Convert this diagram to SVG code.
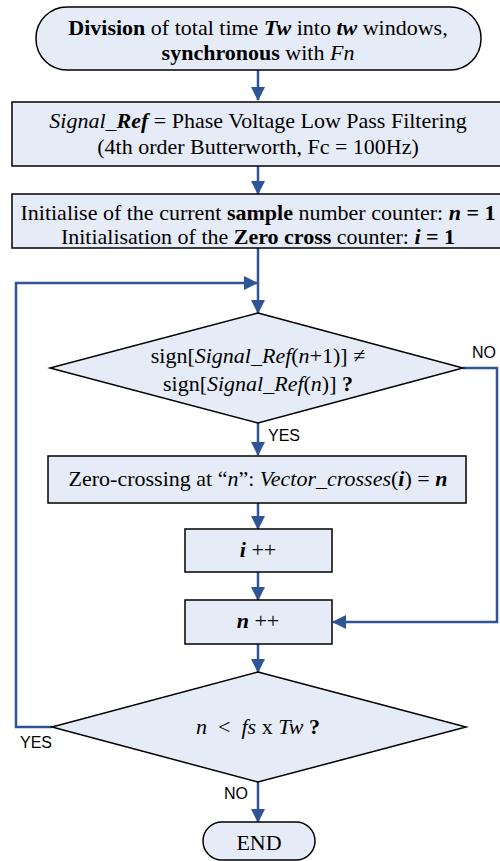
<svg xmlns="http://www.w3.org/2000/svg" width="500" height="861" viewBox="0 0 500 861">
<defs>
<marker id="ah" markerUnits="userSpaceOnUse" markerWidth="14" markerHeight="14" viewBox="0 0 14 14" refX="13" refY="7" orient="auto">
<path d="M0,0 L14,7 L0,14 Z" fill="#2F5597"/>
</marker>
<style>
.n{fill:#E6ECF7;stroke:#000;stroke-width:1.5}
.t{font-family:"Liberation Serif","Times New Roman",serif;font-size:22px;fill:#000;text-anchor:middle}
.l{font-family:"Liberation Sans",Arial,sans-serif;font-size:16px;fill:#000}
.c{fill:none;stroke:#2F5597;stroke-width:2.5}
.b{font-weight:bold}
.i{font-style:italic}
.bi{font-weight:bold;font-style:italic}
</style>
</defs>
<g id="connectors">
<path class="c" d="M258,70 V100" marker-end="url(#ah)"/>
<path class="c" d="M258,166 V194" marker-end="url(#ah)"/>
<path class="c" d="M258,248 V313" marker-end="url(#ah)"/>
<path class="c" d="M52,727 H16 V283 H257" marker-end="url(#ah)"/>
<path class="c" d="M258,423 V455" marker-end="url(#ah)"/>
<path class="c" d="M463,368 H497 V622 H333" marker-end="url(#ah)"/>
<path class="c" d="M258,503 V529" marker-end="url(#ah)"/>
<path class="c" d="M258,572 V600" marker-end="url(#ah)"/>
<path class="c" d="M258,644 V672" marker-end="url(#ah)"/>
<path class="c" d="M258,782 V822" marker-end="url(#ah)"/>
<text class="l" x="472" y="358">NO</text>
<text class="l" x="268" y="441">YES</text>
<text class="l" x="20" y="748">YES</text>
<text class="l" x="224" y="799">NO</text>
</g>
<g id="start">
<rect class="n" x="36" y="7" width="445" height="63" rx="31" ry="31"/>
<text class="t" x="258" y="35"><tspan class="b">Division</tspan> of total time <tspan class="bi">Tw</tspan> into <tspan class="bi">tw</tspan> windows,</text>
<text class="t" x="258" y="60"><tspan class="b">synchronous</tspan> with <tspan class="i">Fn</tspan></text>
</g>
<g id="filter">
<rect class="n" x="12" y="102" width="492" height="64"/>
<text class="t" x="258" y="128"><tspan class="i">Signal_</tspan><tspan class="bi">Ref</tspan> = Phase Voltage Low Pass Filtering</text>
<text class="t" x="258" y="154">(4th order Butterworth, Fc = 100Hz)</text>
</g>
<g id="init">
<rect class="n" x="12" y="194" width="492" height="54"/>
<text class="t" x="258" y="220">Initialise of the current <tspan class="b">sample</tspan> number counter: <tspan class="bi">n</tspan> <tspan class="b">= 1</tspan></text>
<text class="t" x="258" y="244">Initialisation of the <tspan class="b">Zero cross</tspan> counter: <tspan class="bi">i</tspan> <tspan class="b">= 1</tspan></text>
</g>
<g id="decision1">
<polygon class="n" points="258,313 463,368 258,423 50,368"/>
<text class="t" x="258" y="363">sign[<tspan class="i">Signal_Ref</tspan>(<tspan class="i">n</tspan>+1)] ≠</text>
<text class="t" x="258" y="391">sign[<tspan class="i">Signal_Ref</tspan>(<tspan class="i">n</tspan>)] <tspan class="b">?</tspan></text>
</g>
<g id="zerocross">
<rect class="n" x="48" y="456" width="418" height="47"/>
<text class="t" x="258" y="486">Zero-crossing at “<tspan class="i">n</tspan>”: <tspan class="i">Vector_crosses</tspan>(<tspan class="bi">i</tspan>) = <tspan class="bi">n</tspan></text>
</g>
<g id="inc-i">
<rect class="n" x="185" y="529" width="147" height="43"/>
<text class="t" x="258" y="557"><tspan class="bi">i</tspan> ++</text>
</g>
<g id="inc-n">
<rect class="n" x="185" y="600" width="147" height="44"/>
<text class="t" x="258" y="628"><tspan class="bi">n</tspan> ++</text>
</g>
<g id="decision2">
<polygon class="n" points="258,672 466,727 258,782 52,727"/>
<text class="t" x="258" y="734"><tspan class="i">n</tspan>&#160; &lt;&#160; <tspan class="i">fs</tspan> x <tspan class="i">Tw</tspan> <tspan class="b">?</tspan></text>
</g>
<g id="end">
<rect class="n" x="203" y="822" width="112" height="38" rx="19" ry="19"/>
<text class="t" x="259" y="850">END</text>
</g>
</svg>
